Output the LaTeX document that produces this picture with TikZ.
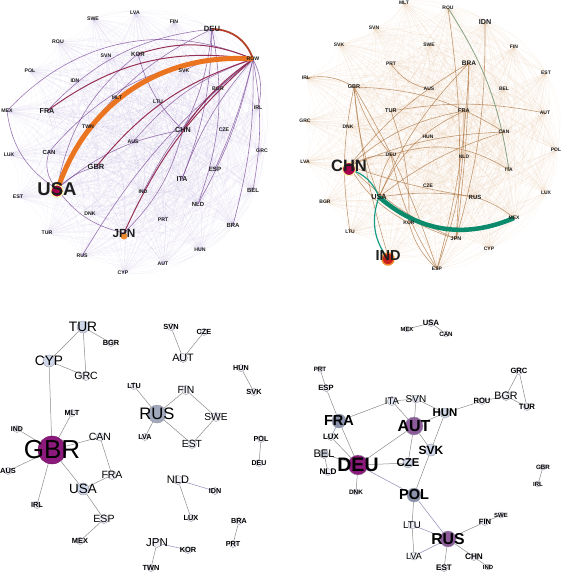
\documentclass[tikz,border=0pt]{standalone}
\usepackage{fontspec}
\setmainfont{Liberation Sans}

\definecolor{labelgray}{HTML}{1E1E1E}
\definecolor{tlpurple}{HTML}{9C86C8}
\definecolor{tlplum}{HTML}{7A4A98}
\definecolor{tlwine}{HTML}{8C1C44}
\definecolor{tlrust}{HTML}{B4402A}
\definecolor{tlorange}{HTML}{EA7420}
\definecolor{trtan}{HTML}{D8A878}
\definecolor{trbrown}{HTML}{B07A48}
\definecolor{trsage}{HTML}{86A080}
\definecolor{trteal}{HTML}{0B8A6C}
\definecolor{trtealthin}{HTML}{1A9C84}
\definecolor{usared}{HTML}{A8004A}
\definecolor{jpnorange}{HTML}{F08A30}
\definecolor{indred}{HTML}{C8201C}
\definecolor{nodefill}{HTML}{EEF0F6}
\definecolor{nodeline}{HTML}{9A9AA8}
\definecolor{nodeblue}{HTML}{CFD7E8}
\definecolor{nodeslate}{HTML}{8A92AB}
\definecolor{nodeplum}{HTML}{8C5B9A}
\definecolor{nodemagenta}{HTML}{8B1A7C}
\definecolor{bedgegray}{HTML}{8C8C8C}
\definecolor{bedgeblue}{HTML}{8C8CB8}

\pgfdeclarelayer{edges}
\pgfsetlayers{edges,main}

\tikzset{
  tlab/.style={font=\bfseries\fontsize{#1}{#1}\selectfont, inner sep=0pt, text=labelgray},
  tlab/.default=5.2,
  blab/.style={font=\fontsize{#1}{#1}\selectfont, inner sep=0pt, text=black},
  bblab/.style={font=\bfseries\fontsize{#1}{#1}\selectfont, inner sep=0pt, text=black},
  bnode/.style={circle, draw=nodeline, line width=.4pt, fill=nodefill, inner sep=0pt, minimum size=#1},
  bnode/.default=7pt,
  tdot/.style={circle, inner sep=0pt, minimum size=#1},
  tlfaint/.style={draw=tlpurple, line width=.25pt, opacity=.12},
  tlmid/.style={draw=tlplum, line width=.6pt, opacity=.75},
  tlred/.style={draw=tlwine, line width=1pt, opacity=.9},
  trfaint/.style={draw=trtan, line width=.25pt, opacity=.16},
  trmid/.style={draw=trbrown, line width=.6pt, opacity=.75},
  bedge/.style={draw=bedgegray, line width=.5pt},
  bbedge/.style={draw=bedgeblue, line width=.5pt}
}

\begin{document}
\begin{tikzpicture}[x=1pt, y=1pt]
  \useasboundingbox (0,0) rectangle (562,-574);

  % ---------- top left ----------
  \node[tdot=12pt, fill=usared, draw=yellow!40, line width=1pt] (tlUSAdot) at (57,-191) {};
  \node[tdot=7pt, fill=jpnorange] (tlJPNdot) at (124,-236) {};
  \node[tlab] (tlSWE) at (93,-19) {SWE};
  \node[tlab] (tlLVA) at (135,-13) {LVA};
  \node[tlab] (tlFIN) at (174,-22) {FIN};
  \node[tlab=7.6] (tlDEU) at (212,-29) {DEU};
  \node[tlab] (tlROW) at (253,-59) {ROW};
  \node[tlab] (tlROU) at (58,-42) {ROU};
  \node[tlab] (tlSVN) at (106,-56) {SVN};
  \node[tlab=6.2] (tlKOR) at (138,-54) {KOR};
  \node[tlab] (tlPOL) at (30,-71) {POL};
  \node[tlab] (tlSVK) at (184,-71) {SVK};
  \node[tlab] (tlIDN) at (75,-81) {IDN};
  \node[tlab] (tlBGR) at (218,-89) {BGR};
  \node[tlab] (tlMLT) at (117,-98) {MLT};
  \node[tlab] (tlLTU) at (158,-102) {LTU};
  \node[tlab] (tlIRL) at (258,-108) {IRL};
  \node[tlab] (tlMEX) at (7,-111) {MEX};
  \node[tlab=7.2] (tlFRA) at (47,-111) {FRA};
  \node[tlab] (tlTWN) at (88,-127) {TWN};
  \node[tlab=7.2] (tlCHN) at (183,-130) {CHN};
  \node[tlab] (tlCZE) at (224,-130) {CZE};
  \node[tlab] (tlAUS) at (133,-142) {AUS};
  \node[tlab] (tlLUX) at (9,-155) {LUX};
  \node[tlab=6] (tlCAN) at (49,-152) {CAN};
  \node[tlab] (tlGRC) at (262,-151) {GRC};
  \node[tlab=7.5] (tlGBR) at (96,-167) {GBR};
  \node[tlab=6.2] (tlESP) at (215,-169) {ESP};
  \node[tlab=7] (tlITA) at (182,-179) {ITA};
  \node[tlab=18.5] (tlUSA) at (57,-189) {USA};
  \node[tlab=6] (tlBEL) at (253,-190) {BEL};
  \node[tlab] (tlIND) at (143,-192) {IND};
  \node[tlab] (tlEST) at (18,-197) {EST};
  \node[tlab=6] (tlNLD) at (198,-204) {NLD};
  \node[tlab] (tlDNK) at (90,-214) {DNK};
  \node[tlab] (tlPRT) at (163,-220) {PRT};
  \node[tlab=6] (tlBRA) at (233,-225) {BRA};
  \node[tlab] (tlTUR) at (47,-233) {TUR};
  \node[tlab=11.8] (tlJPN) at (124,-233) {JPN};
  \node[tlab] (tlHUN) at (200,-250) {HUN};
  \node[tlab] (tlRUS) at (82,-256) {RUS};
  \node[tlab] (tlAUT) at (163,-264) {AUT};
  \node[tlab] (tlCYP) at (123,-273) {CYP};

  \def\tllist{SWE,LVA,FIN,DEU,ROW,ROU,SVN,KOR,POL,SVK,IDN,BGR,MLT,LTU,IRL,MEX,FRA,TWN,CHN,CZE,AUS,LUX,CAN,GRC,GBR,ESP,ITA,USA,BEL,IND,EST,NLD,DNK,PRT,BRA,TUR,JPN,HUN,RUS,AUT,CYP}
  \begin{pgfonlayer}{edges}
    % faint web
    \foreach \a [count=\i] in \tllist {
      \foreach \b [count=\j] in \tllist {
        \ifnum\j>\i \draw[tlfaint] (tl\a.center) to[bend left=22] (tl\b.center); \fi
      }
    }
    % strong flows
    \draw[tlmid] (tlROW.center) to[bend right=35] (tlMEX.center);
    \draw[tlmid] (tlROW.center) to[bend right=25] (tlCAN.center);
    \draw[tlmid] (tlROW.center) to[bend right=10] (tlITA.center);
    \draw[tlmid] (tlROW.center) to[bend left=5] (tlESP.center);
    \draw[tlmid] (tlROW.center) to[bend left=10] (tlBEL.center);
    \draw[tlmid] (tlROW.center) to[bend left=8] (tlNLD.center);
    \draw[tlmid] (tlROW.center) to[bend left=8] (tlBRA.center);
    \draw[tlmid] (tlROW.center) to[bend right=12] (tlIND.center);
    \draw[tlmid] (tlROW.center) to[bend right=15] (tlAUS.center);
    \draw[tlmid] (tlROW.center) to[bend left=20] (tlIRL.center);
    \draw[tlmid] (tlROW.center) to[bend right=10] (tlRUS.center);
    \draw[tlmid] (tlROW.center) to[bend right=20] (tlSVK.center);
    \draw[tlmid] (tlDEU.center) to[bend right=20] (tlFRA.center);
    \draw[tlmid] (tlDEU.center) to[bend right=20] (tlUSA.center);
    \draw[tlmid] (tlDEU.center) to[bend left=10] (tlCHN.center);
    \draw[tlmid] (tlDEU.center) to[bend left=10] (tlITA.center);
    \draw[tlmid] (tlDEU.center) to[bend left=15] (tlNLD.center);
    \draw[tlmid] (tlUSA.center) to[bend left=30] (tlCAN.center);
    \draw[tlmid] (tlUSA.center) to[bend left=25] (tlMEX.center);
    \draw[tlmid] (tlUSA.center) to[bend right=20] (tlJPN.center);
    \draw[tlmid] (tlUSA.center) to[bend left=15] (tlCHN.center);
    \draw[tlmid] (tlUSA.center) to[bend left=15] (tlGBR.center);
    \draw[tlmid] (tlUSA.center) to[bend left=20] (tlKOR.center);
    \draw[tlmid] (tlCHN.center) to[bend left=15] (tlKOR.center);
    \draw[tlmid] (tlJPN.center) to[bend right=15] (tlCHN.center);
    \draw[tlred] (tlROW.center) to[bend right=22] (tlFRA.center);
    \draw[tlred] (tlROW.center) to[bend right=16] (tlGBR.center);
    \draw[tlred] (tlROW.center) to[bend right=10] (tlCHN.center);
    \draw[tlred] (tlROW.center) to[bend right=12] (tlJPN.center);
    \draw[tlred] (tlROW.center) to[bend right=20] (tlKOR.center);
    \draw[draw=tlrust, line width=1.8pt] (tlDEU.center) to[bend left=35] (tlROW.center);
    \draw[draw=tlorange, line width=5pt] (tlROW.center) to[bend right=38] (tlUSAdot.center);
  \end{pgfonlayer}

  % ---------- top right ----------
  \node[tdot=13pt, fill=usared, draw=yellow!35, line width=1pt] (trCHNdot) at (349,-169) {};
  \node[tdot=12pt, fill=indred, draw=jpnorange, line width=1.5pt] (trINDdot) at (388,-259) {};
  \node[tlab=5] (trMLT) at (404,-3) {MLT};
  \node[tlab=5] (trROU) at (448,-8) {ROU};
  \node[tlab=7.2] (trIDN) at (485,-22) {IDN};
  \node[tlab=5] (trSVN) at (374,-28) {SVN};
  \node[tlab=5] (trSVK) at (339,-45) {SVK};
  \node[tlab=5] (trSWE) at (429,-45) {SWE};
  \node[tlab=5] (trFIN) at (514,-47) {FIN};
  \node[tlab=5] (trPRT) at (391,-64) {PRT};
  \node[tlab=6.6] (trBRA) at (469,-63) {BRA};
  \node[tlab=5] (trEST) at (546,-73) {EST};
  \node[tlab=5] (trIRL) at (306,-78) {IRL};
  \node[tlab=5.6] (trGBR) at (354,-87) {GBR};
  \node[tlab=5] (trAUS) at (429,-89) {AUS};
  \node[tlab=5] (trBEL) at (504,-89) {BEL};
  \node[tlab=5.6] (trTUR) at (391,-111) {TUR};
  \node[tlab=5.6] (trFRA) at (464,-111) {FRA};
  \node[tlab=5] (trAUT) at (545,-113) {AUT};
  \node[tlab=5] (trGRC) at (305,-121) {GRC};
  \node[tlab=5] (trDNK) at (348,-127) {DNK};
  \node[tlab=5] (trCAN) at (504,-132) {CAN};
  \node[tlab=5] (trHUN) at (428,-137) {HUN};
  \node[tlab=5] (trPOL) at (556,-150) {POL};
  \node[tlab=5] (trDEU) at (391,-155) {DEU};
  \node[tlab=5] (trNLD) at (464,-157) {NLD};
  \node[tlab=5] (trLVA) at (305,-162) {LVA};
  \node[tlab=16.5] (trCHN) at (349,-166) {CHN};
  \node[tlab=5] (trITA) at (509,-170) {ITA};
  \node[tlab=5] (trCZE) at (428,-186) {CZE};
  \node[tlab=5] (trLUX) at (546,-193) {LUX};
  \node[tlab=7.3] (trUSA) at (379,-197) {USA};
  \node[tlab=6] (trRUS) at (475,-197) {RUS};
  \node[tlab=5] (trBGR) at (325,-202) {BGR};
  \node[tlab=5] (trMEX) at (514,-218) {MEX};
  \node[tlab=5] (trKOR) at (409,-223) {KOR};
  \node[tlab=5] (trLTU) at (350,-232) {LTU};
  \node[tlab=5.4] (trJPN) at (456,-239) {JPN};
  \node[tlab=5] (trCYP) at (489,-249) {CYP};
  \node[tlab=14.5] (trIND) at (388,-256) {IND};
  \node[tlab=5] (trESP) at (437,-269) {ESP};

  \def\trlist{MLT,ROU,IDN,SVN,SVK,SWE,FIN,PRT,BRA,EST,IRL,GBR,AUS,BEL,TUR,FRA,AUT,GRC,DNK,CAN,HUN,POL,DEU,NLD,LVA,CHN,ITA,CZE,LUX,USA,RUS,BGR,MEX,KOR,LTU,JPN,CYP,IND,ESP}
  \begin{pgfonlayer}{edges}
    % faint web
    \foreach \a [count=\i] in \trlist {
      \foreach \b [count=\j] in \trlist {
        \ifnum\j>\i \draw[trfaint] (tr\a.center) to[bend left=22] (tr\b.center); \fi
      }
    }
    % strong flows
    \draw[trmid] (trIRL.center) to[bend left=20] (trGBR.center);
    \draw[trmid] (trGBR.center) to[bend right=10] (trDEU.center);
    \draw[trmid] (trGBR.center) to[bend right=8] (trUSA.center);
    \draw[trmid] (trGBR.center) to[bend left=6] (trESP.center);
    \draw[trmid] (trGBR.center) to[bend right=5] (trIND.center);
    \draw[trmid] (trGBR.center) to[bend left=15] (trCAN.center);
    \draw[trmid] (trPRT.center) to[bend right=20] (trAUS.center);
    \draw[trmid] (trBRA.center) to[bend left=6] (trESP.center);
    \draw[trmid] (trBRA.center) to[bend left=3] (trJPN.center);
    \draw[trmid] (trBRA.center) to[bend right=10] (trUSA.center);
    \draw[trmid] (trROU.center) to[bend left=6] (trJPN.center);
    \draw[trmid] (trIDN.center) to[bend left=8] (trJPN.center);
    \draw[trmid] (trDEU.center) to[bend left=25] (trITA.center);
    \draw[trmid] (trCHN.center) to[bend left=15] (trDEU.center);
    \draw[trmid] (trCHN.center) to[bend right=15] (trKOR.center);
    \draw[trmid] (trCHN.center) to[bend right=10] (trJPN.center);
    \draw[trmid] (trCHN.center) to[bend left=15] (trFRA.center);
    \draw[trmid] (trCHN.center) to[bend left=10] (trCAN.center);
    \draw[trmid] (trCHN.center) to[bend left=10] (trBRA.center);
    \draw[trmid] (trCHN.center) to[bend right=5] (trRUS.center);
    \draw[trmid] (trUSA.center) to[bend left=10] (trCAN.center);
    \draw[trmid] (trUSA.center) to[bend right=10] (trJPN.center);
    \draw[trmid] (trUSA.center) to[bend left=15] (trDEU.center);
    \draw[trmid] (trUSA.center) to[bend left=20] (trFRA.center);
    \draw[trmid] (trUSA.center) to[bend left=8] (trRUS.center);
    \draw[trmid] (trKOR.center) to[bend right=15] (trESP.center);
    \draw[trmid] (trESP.center) to[bend right=10] (trFRA.center);
    \draw[trmid] (trESP.center) to[bend left=10] (trDEU.center);
    \draw[trmid] (trLTU.center) to[bend left=10] (trGBR.center);
    \draw[trmid] (trTUR.center) to[bend left=10] (trKOR.center);
    \draw[trmid] (trAUT.center) to[bend right=10] (trTUR.center);
    \draw[trmid] (trRUS.center) to[bend left=10] (trMEX.center);
    \draw[draw=trsage, line width=.8pt] (trROU.center) to[bend left=12] (trITA.center);
    \draw[draw=trtealthin, line width=1.2pt] (trCHNdot.center) to[bend left=25] (trUSA.center);
    \draw[draw=trtealthin, line width=1.2pt] (trUSA.center) to[bend right=28] (trINDdot.center);
    \draw[draw=trteal, line width=4.5pt] (trUSA.center) to[bend right=32] (trMEX.center);
  \end{pgfonlayer}

  % ---------- bottom left ----------
  \node[bnode=12pt, fill=nodeblue, label={[blab=13.7]center:TUR}] (blTUR) at (83,-327) {};
  \node[bnode, label={[bblab=7.4]center:BGR}] (blBGR) at (111,-343) {};
  \node[bnode=12pt, fill=nodeblue, label={[blab=13.7]center:CYP}] (blCYP) at (49,-361) {};
  \node[bnode=9pt, label={[blab=10.5]center:GRC}] (blGRC) at (86,-376) {};
  \node[bnode, label={[bblab=7.4]center:MLT}] (blMLT) at (72,-413) {};
  \node[bnode, label={[bblab=7]center:IND}] (blIND) at (17,-429) {};
  \node[bnode=8pt, label={[blab=10.5]center:CAN}] (blCAN) at (100,-437) {};
  \node[bnode=28pt, fill=nodemagenta, draw=nodemagenta!80!black, label={[blab=26]center:GBR}] (blGBR) at (52,-450) {};
  \node[bnode, label={[bblab=7.4]center:AUS}] (blAUS) at (8,-471) {};
  \node[bnode=9pt, label={[blab=10.5]center:FRA}] (blFRA) at (112,-475) {};
  \node[bnode=12pt, fill=nodeblue, label={[blab=13.4]center:USA}] (blUSA) at (83,-489) {};
  \node[bnode, label={[bblab=7.4]center:IRL}] (blIRL) at (37,-505) {};
  \node[bnode=9pt, label={[blab=10.5]center:ESP}] (blESP) at (104,-519) {};
  \node[bnode, label={[bblab=7.4]center:MEX}] (blMEX) at (80,-541) {};
  \begin{pgfonlayer}{edges}
    \draw[bedge] (blTUR) -- (blBGR);
    \draw[bedge] (blTUR) -- (blCYP);
    \draw[bedge] (blTUR) -- (blGRC);
    \draw[bedge] (blCYP) -- (blGRC);
    \draw[bedge] (blCYP) -- (blGBR);
    \draw[bedge] (blGBR) -- (blMLT);
    \draw[bedge] (blGBR) -- (blIND);
    \draw[bedge] (blGBR) -- (blCAN);
    \draw[bedge] (blGBR) -- (blAUS);
    \draw[bedge] (blGBR) -- (blIRL);
    \draw[bedge] (blGBR) -- (blUSA);
    \draw[bedge] (blCAN) -- (blFRA);
    \draw[bedge] (blUSA) -- (blFRA);
    \draw[bedge] (blUSA) -- (blESP);
    \draw[bedge] (blESP) -- (blMEX);
  \end{pgfonlayer}

  % ---------- bottom middle ----------
  \node[bnode, label={[bblab=7.4]center:SVN}] (bmSVN) at (171,-327) {};
  \node[bnode, label={[bblab=7.4]center:CZE}] (bmCZE) at (204,-332) {};
  \node[bnode=9pt, label={[blab=10.7]center:AUT}] (bmAUT) at (183,-358) {};
  \node[bnode, label={[bblab=7.2]center:HUN}] (bmHUN) at (241,-368) {};
  \node[bnode, label={[bblab=7.4]center:SVK}] (bmSVK) at (254,-392) {};
  \node[bnode=9pt, label={[blab=10.4]center:FIN}] (bmFIN) at (186,-390) {};
  \node[bnode, label={[bblab=7.2]center:LTU}] (bmLTU) at (134,-386) {};
  \node[bnode=18pt, fill=nodeslate!80, label={[blab=16.6]center:RUS}] (bmRUS) at (157,-414) {};
  \node[bnode=9pt, label={[blab=10.2]center:SWE}] (bmSWE) at (216,-417) {};
  \node[bnode, label={[bblab=7.2]center:LVA}] (bmLVA) at (145,-437) {};
  \node[bnode=9pt, label={[blab=10.3]center:EST}] (bmEST) at (192,-444) {};
  \node[bnode, label={[bblab=7.2]center:POL}] (bmPOL) at (261,-439) {};
  \node[bnode, label={[bblab=7]center:DEU}] (bmDEU) at (259,-463) {};
  \node[bnode=9pt, label={[blab=11]center:NLD}] (bmNLD) at (178,-480) {};
  \node[bnode, label={[bblab=7.2]center:IDN}] (bmIDN) at (215,-491) {};
  \node[bnode, label={[bblab=7.4]center:LUX}] (bmLUX) at (191,-518) {};
  \node[bnode, label={[bblab=7.2]center:BRA}] (bmBRA) at (239,-521) {};
  \node[bnode, label={[bblab=7.2]center:PRT}] (bmPRT) at (233,-544) {};
  \node[bnode=9pt, label={[blab=11.5]center:JPN}] (bmJPN) at (157,-543) {};
  \node[bnode, label={[bblab=7.4]center:KOR}] (bmKOR) at (188,-550) {};
  \node[bnode, label={[bblab=7.4]center:TWN}] (bmTWN) at (151,-568) {};
  \begin{pgfonlayer}{edges}
    \draw[bedge] (bmSVN) -- (bmAUT);
    \draw[bedge] (bmCZE) -- (bmAUT);
    \draw[bedge] (bmHUN) -- (bmSVK);
    \draw[bedge] (bmLTU) -- (bmRUS);
    \draw[bedge] (bmRUS) -- (bmFIN);
    \draw[bedge] (bmFIN) -- (bmSWE);
    \draw[bedge] (bmSWE) -- (bmEST);
    \draw[bedge] (bmRUS) -- (bmEST);
    \draw[bedge] (bmRUS) -- (bmLVA);
    \draw[bedge] (bmPOL) -- (bmDEU);
    \draw[bbedge] (bmNLD) -- (bmIDN);
    \draw[bedge] (bmNLD) -- (bmLUX);
    \draw[bedge] (bmBRA) -- (bmPRT);
    \draw[bbedge] (bmJPN) -- (bmKOR);
    \draw[bedge] (bmJPN) -- (bmTWN);
  \end{pgfonlayer}

  % ---------- bottom right ----------
  \node[bnode=6pt, label={[bblab=5.8]center:MEX}] (brMEX) at (407,-329) {};
  \node[bnode, label={[bblab=7.6]center:USA}] (brUSA) at (431,-323) {};
  \node[bnode=6pt, label={[bblab=6.2]center:CAN}] (brCAN) at (446,-334) {};
  \node[bnode=6pt, label={[bblab=6.2]center:PRT}] (brPRT) at (320,-369) {};
  \node[bnode, label={[bblab=7.6]center:GRC}] (brGRC) at (519,-371) {};
  \node[bnode, label={[bblab=7.6]center:ESP}] (brESP) at (326,-388) {};
  \node[bnode=8pt, fill=nodeblue!60, label={[blab=10]center:SVN}] (brSVN) at (416,-399) {};
  \node[bnode=9pt, fill=nodeblue!60, label={[blab=9.6]center:ITA}] (brITA) at (392,-401) {};
  \node[bnode, label={[bblab=7.6]center:ROU}] (brROU) at (482,-401) {};
  \node[bnode=9pt, label={[blab=10.7]center:BGR}] (brBGR) at (506,-396) {};
  \node[bnode, label={[bblab=7.8]center:TUR}] (brTUR) at (527,-407) {};
  \node[bnode=10pt, fill=nodeblue, label={[bblab=11.4]center:HUN}] (brHUN) at (445,-413) {};
  \node[bnode=14pt, fill=nodeslate, label={[bblab=14.5]center:FRA}] (brFRA) at (339,-421) {};
  \node[bnode=18pt, fill=nodeplum, label={[bblab=16]center:AUT}] (brAUT) at (414,-426) {};
  \node[bnode, label={[bblab=7.8]center:LUX}] (brLUX) at (331,-437) {};
  \node[bnode=12pt, fill=nodeblue, label={[bblab=12]center:SVK}] (brSVK) at (431,-450) {};
  \node[bnode=9pt, fill=nodeslate!50, label={[blab=11]center:BEL}] (brBEL) at (324,-454) {};
  \node[bnode=10pt, fill=nodeblue, label={[bblab=11.4]center:CZE}] (brCZE) at (408,-463) {};
  \node[bnode=20pt, fill=nodemagenta, label={[bblab=19.5]center:DEU}] (brDEU) at (358,-465) {};
  \node[bnode=6pt, label={[bblab=6.2]center:GBR}] (brGBR) at (543,-467) {};
  \node[bnode, label={[bblab=8.2]center:NLD}] (brNLD) at (328,-472) {};
  \node[bnode=6pt, label={[bblab=6]center:IRL}] (brIRL) at (538,-484) {};
  \node[bnode=6pt, label={[bblab=6.4]center:DNK}] (brDNK) at (356,-492) {};
  \node[bnode=14pt, fill=nodeslate, label={[bblab=14.5]center:POL}] (brPOL) at (414,-495) {};
  \node[bnode=6pt, label={[bblab=6]center:SWE}] (brSWE) at (501,-515) {};
  \node[bnode, label={[bblab=7.6]center:FIN}] (brFIN) at (485,-522) {};
  \node[bnode=8pt, label={[blab=9.7]center:LTU}] (brLTU) at (412,-525) {};
  \node[bnode=16pt, fill=nodeplum, label={[bblab=15.8]center:RUS}] (brRUS) at (448,-539) {};
  \node[bnode=8pt, label={[blab=9]center:LVA}] (brLVA) at (414,-556) {};
  \node[bnode, label={[bblab=8.2]center:CHN}] (brCHN) at (474,-557) {};
  \node[bnode, label={[bblab=8]center:EST}] (brEST) at (444,-568) {};
  \node[bnode=6pt, label={[bblab=6]center:IND}] (brIND) at (488,-567) {};
  \begin{pgfonlayer}{edges}
    \draw[bedge] (brMEX) -- (brUSA);
    \draw[bedge] (brUSA) -- (brCAN);
    \draw[bedge] (brPRT) -- (brESP);
    \draw[bedge] (brESP) -- (brFRA);
    \draw[bedge] (brFRA) -- (brITA);
    \draw[bbedge] (brFRA) -- (brLUX);
    \draw[bedge] (brFRA) -- (brDEU);
    \draw[bedge] (brITA) -- (brSVN);
    \draw[bedge] (brITA) -- (brAUT);
    \draw[bedge] (brSVN) -- (brAUT);
    \draw[bedge] (brSVN) -- (brHUN);
    \draw[bedge] (brAUT) -- (brHUN);
    \draw[bedge] (brAUT) -- (brSVK);
    \draw[bedge] (brAUT) -- (brCZE);
    \draw[bedge] (brAUT) -- (brDEU);
    \draw[bedge] (brHUN) -- (brROU);
    \draw[bedge] (brHUN) -- (brSVK);
    \draw[bedge] (brROU) -- (brBGR);
    \draw[bedge] (brBGR) -- (brGRC);
    \draw[bedge] (brBGR) -- (brTUR);
    \draw[bedge] (brGRC) -- (brTUR);
    \draw[bedge] (brLUX) -- (brDEU);
    \draw[bedge] (brBEL) -- (brDEU);
    \draw[bedge] (brBEL) -- (brNLD);
    \draw[bedge] (brDEU) -- (brDNK);
    \draw[bedge] (brDEU) -- (brCZE);
    \draw[bbedge] (brDEU) -- (brPOL);
    \draw[bedge] (brSVK) -- (brPOL);
    \draw[bedge] (brPOL) -- (brLTU);
    \draw[bbedge] (brPOL) -- (brRUS);
    \draw[bedge] (brLTU) -- (brLVA);
    \draw[bbedge] (brLTU) -- (brRUS);
    \draw[bbedge] (brLVA) -- (brRUS);
    \draw[bedge] (brRUS) -- (brEST);
    \draw[bedge] (brRUS) -- (brFIN);
    \draw[bedge] (brFIN) -- (brSWE);
    \draw[bedge] (brRUS) -- (brCHN);
    \draw[bedge] (brCHN) -- (brIND);
    \draw[bedge] (brGBR) -- (brIRL);
  \end{pgfonlayer}
\end{tikzpicture}
\end{document}
